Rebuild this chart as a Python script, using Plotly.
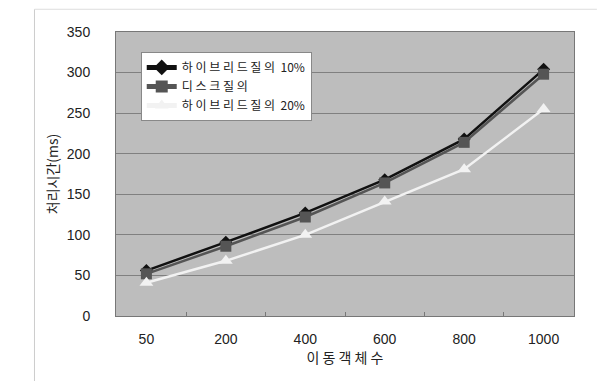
import plotly.graph_objects as go

categories = ["50", "200", "400", "600", "800", "1000"]
hybrid_10 = [56, 91, 127, 168, 218, 304]
disk = [52, 86, 122, 164, 214, 298]
hybrid_20 = [41, 68, 100, 141, 181, 255]
y_ticks = [0, 50, 100, 150, 200, 250, 300, 350]
series_names = ["하 이 브 리 드 질 의  10%", "디 스 크 질 의", "하 이 브 리 드 질 의  20%"]

font_ko = "Noto Sans CJK KR, Liberation Sans, sans-serif"

fig = go.Figure()
fig.add_trace(go.Scatter(
    x=categories, y=hybrid_10, name=series_names[0], mode="lines+markers",
    line=dict(color="#111111", width=2.5),
    marker=dict(symbol="diamond", size=10, color="#111111"),
))
fig.add_trace(go.Scatter(
    x=categories, y=disk, name=series_names[1], mode="lines+markers",
    line=dict(color="#555555", width=2.5),
    marker=dict(symbol="square", size=11, color="#555555"),
))
fig.add_trace(go.Scatter(
    x=categories, y=hybrid_20, name=series_names[2], mode="lines+markers",
    line=dict(color="#f2f2f2", width=2.5),
    marker=dict(symbol="triangle-up", size=12, color="#f2f2f2"),
))

fig.update_layout(
    width=599, height=381,
    margin=dict(l=116, r=25, t=32, b=65),
    paper_bgcolor="white",
    plot_bgcolor="#bdbdbd",
    font=dict(family=font_ko, size=13, color="#222222"),
    showlegend=True,
    legend=dict(
        x=0.054, y=0.93, xanchor="left", yanchor="top",
        bgcolor="white", bordercolor="#888888", borderwidth=1,
        font=dict(size=12, family=font_ko, color="#222222"),
        tracegroupgap=0, itemwidth=30, itemsizing="constant",
    ),
    xaxis=dict(
        type="category", showgrid=False, zeroline=False,
        ticks="inside", ticklen=4, tickcolor="#777777",
        tickson="boundaries", ticklabelstandoff=10,
        showline=True, linecolor="#777777", mirror=True,
        tickfont=dict(size=14, family="Liberation Sans, sans-serif", color="#222222"),
        title=dict(text="이 동 객 체 수", font=dict(size=14, family=font_ko), standoff=4),
    ),
    yaxis=dict(
        range=[0, 350], tickvals=y_ticks, showgrid=True, gridcolor="#808080", gridwidth=1,
        zeroline=False, showline=True, linecolor="#777777", mirror=True,
        ticks="", ticklabelstandoff=22,
        tickfont=dict(size=14, family="Liberation Sans, sans-serif", color="#222222"),
        title=dict(text="처리시간(ms)", font=dict(size=14, family=font_ko), standoff=4),
    ),
)

# faint page frame along the left and top edges
fig.add_shape(type="line", xref="paper", yref="paper", x0=-0.178, x1=-0.178, y0=-0.25, y1=1.08,
              line=dict(color="#cccccc", width=1))
fig.add_shape(type="line", xref="paper", yref="paper", x0=-0.178, x1=1.05, y0=1.08, y1=1.08,
              line=dict(color="#dddddd", width=1))

fig.write_html("out.html")
